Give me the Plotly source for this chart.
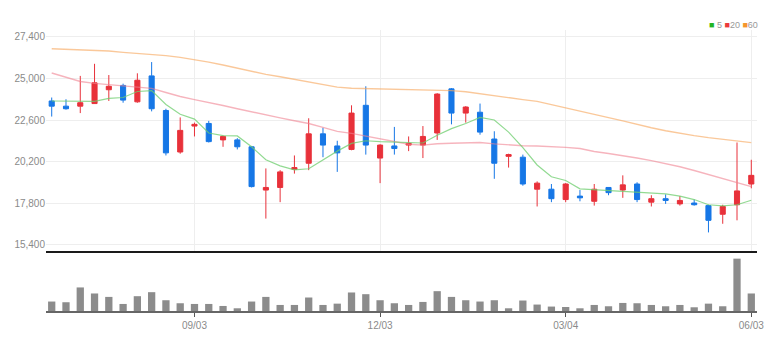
import pandas as pd
import plotly.graph_objects as go
from plotly.subplots import make_subplots

dates = ["2018-06-25", "2018-07-02", "2018-07-09", "2018-07-16", "2018-07-23", "2018-07-30",
         "2018-08-06", "2018-08-13", "2018-08-20", "2018-08-27", "2018-09-03", "2018-09-10",
         "2018-09-17", "2018-09-24", "2018-10-01", "2018-10-08", "2018-10-15", "2018-10-22",
         "2018-10-29", "2018-11-05", "2018-11-12", "2018-11-19", "2018-11-26", "2018-12-03",
         "2018-12-10", "2018-12-17", "2018-12-24", "2018-12-31", "2019-01-07", "2019-01-14",
         "2019-01-21", "2019-01-28", "2019-02-04", "2019-02-11", "2019-02-18", "2019-02-25",
         "2019-03-04", "2019-03-11", "2019-03-18", "2019-03-25", "2019-04-01", "2019-04-08",
         "2019-04-15", "2019-04-22", "2019-04-29", "2019-05-06", "2019-05-13", "2019-05-20",
         "2019-05-27", "2019-06-03"]

opens = [23700, 23400, 23400, 23550, 24350, 24600, 23650, 25150, 23150, 20750,
         22250, 22400, 21450, 21450, 21050, 18550, 18700, 19750, 20100, 21800,
         21100, 20900, 23450, 20400, 21100, 21150, 21150, 21850, 24400, 23000,
         23050, 21500, 20500, 20450, 18600, 18600, 18000, 18200, 17900, 18700,
         18550, 18900, 17850, 18050, 17750, 17800, 17650, 17150, 17700, 18900]
highs = [23900, 23800, 25150, 25850, 25200, 24700, 25300, 25950, 23250, 22750,
         22450, 22550, 21700, 21550, 21100, 19800, 19700, 20550, 22700, 22150,
         21400, 23450, 24550, 21200, 22200, 21650, 22250, 24150, 24450, 23400,
         23550, 21950, 20650, 20600, 19050, 18900, 18950, 18550, 18900, 18700,
         19400, 19000, 18250, 18300, 18200, 18000, 17700, 17700, 21300, 20300]
lows = [22800, 23200, 23000, 23550, 23700, 23600, 23600, 23100, 20550, 20650,
        21650, 21300, 21050, 20900, 18700, 16900, 17850, 19500, 19700, 20450,
        19600, 20850, 20600, 18950, 20600, 20800, 20400, 21450, 22350, 22450,
        21750, 19200, 19850, 18800, 17600, 17850, 17850, 17900, 17650, 18250,
        18100, 17850, 17600, 17750, 17650, 17650, 16100, 16600, 16800, 18650]
closes = [23400, 23250, 23600, 24750, 24550, 23750, 24900, 23250, 20700, 22000,
          22350, 21350, 21650, 21050, 18750, 18700, 19600, 19850, 21800, 21150,
          20700, 23000, 21150, 21150, 20950, 21250, 21650, 24100, 23000, 23350,
          21900, 20100, 20600, 18900, 18950, 18050, 18900, 18100, 18600, 18400,
          18850, 18000, 18050, 17950, 17950, 17700, 16800, 17600, 18500, 19400]

ma5 = [23700, 23680, 23670, 23680, 23850, 23900, 24250, 24300, 23500, 22930,
       22650, 21850, 21700, 21680, 21050, 20300, 19950, 19720, 19780, 20300,
       20800, 21250, 21400, 21350, 21320, 21300, 21270, 21720, 22100, 22400,
       22750, 22600, 21900, 21000, 20000, 19320, 19100, 18620, 18570, 18520,
       18510, 18450, 18380, 18330, 18200, 18000, 17700, 17640, 17700, 17960]
ma20 = [25320, 25080, 24830, 24720, 24640, 24570, 24500, 24430, 24190, 23960,
        23780, 23620, 23440, 23250, 23060, 22900, 22720, 22560, 22400, 22170,
        21940, 21830, 21680, 21540, 21360, 21200, 21150, 21230, 21260, 21300,
        21300, 21220, 21150, 21110, 21100, 21080, 21020, 20950, 20780, 20660,
        20550, 20400, 20250, 20080, 19900, 19680, 19450, 19200, 18950, 18750]
ma60 = [26720, 26690, 26660, 26620, 26590, 26510, 26460, 26390, 26320, 26220,
        26100, 25950, 25780, 25600, 25400, 25240, 25100, 24960, 24800, 24650,
        24500, 24440, 24420, 24400, 24380, 24360, 24340, 24320, 24300, 24230,
        24110, 24000, 23900, 23780, 23680, 23500, 23320, 23130, 22930, 22740,
        22550, 22330, 22150, 21980, 21830, 21700, 21580, 21470, 21370, 21290]

volumes = [188000, 174000, 468000, 348000, 280000, 140000, 294000, 374000, 214000, 154000,
           140000, 140000, 100000, 54000, 188000, 280000, 120000, 120000, 268000, 120000,
           146000, 368000, 334000, 214000, 154000, 120000, 180000, 394000, 280000, 214000,
           188000, 214000, 54000, 208000, 128000, 88000, 80000, 54000, 120000, 94000,
           160000, 154000, 120000, 94000, 120000, 74000, 146000, 94000, 1040000, 348000]

tick_dates = ["2018-09-03", "2018-12-03", "2019-03-04", "2019-06-03"]
tick_labels = ["09/03", "12/03", "03/04", "06/03"]
price_ticks = [15400, 17800, 20200, 22600, 25000, 27400]

UP = "#e8313a"
DOWN = "#1677e6"
FONT = "Liberation Sans Narrow, Arial Narrow, sans-serif"
LABEL = "#8a8a8a"

fig = make_subplots(rows=2, cols=1, shared_xaxes=False, vertical_spacing=0.0,
                    row_heights=[0.785, 0.215])

fig.add_trace(go.Scatter(x=dates, y=ma60, mode="lines",
                         line=dict(color="rgba(247,170,100,0.65)", width=1.4),
                         showlegend=False, hoverinfo="skip"), row=1, col=1)
fig.add_trace(go.Scatter(x=dates, y=ma20, mode="lines",
                         line=dict(color="rgba(240,130,145,0.6)", width=1.4),
                         showlegend=False, hoverinfo="skip"), row=1, col=1)
fig.add_trace(go.Scatter(x=dates, y=ma5, mode="lines",
                         line=dict(color="rgba(110,205,110,0.75)", width=1.2),
                         showlegend=False, hoverinfo="skip"), row=1, col=1)
fig.add_trace(go.Candlestick(x=dates, open=opens, high=highs, low=lows, close=closes,
                             increasing=dict(line=dict(color=UP, width=1), fillcolor=UP),
                             decreasing=dict(line=dict(color=DOWN, width=1), fillcolor=DOWN),
                             whiskerwidth=0, showlegend=False), row=1, col=1)
fig.add_trace(go.Bar(x=dates, y=volumes, marker=dict(color="#8c8c8c", line=dict(width=0)),
                     showlegend=False), row=2, col=1)

start = pd.Timestamp(dates[0]) - pd.Timedelta(days=2.8)
end = pd.Timestamp(dates[-1]) + pd.Timedelta(days=2.8)

fig.update_layout(
    width=781, height=349,
    margin=dict(l=46, r=24, t=30, b=38),
    paper_bgcolor="white", plot_bgcolor="white",
    boxgap=0.49, bargap=0.49,
    font=dict(family=FONT, size=10, color=LABEL),
    showlegend=False,
)

fig.update_xaxes(type="date", range=[start, end], tickvals=tick_dates, ticktext=tick_labels)
fig.update_xaxes(row=1, col=1, showticklabels=False, showgrid=True, gridcolor="#eeeeee",
                 gridwidth=1, showline=True, linecolor="#1a1a1a", linewidth=2,
                 rangeslider=dict(visible=False), ticks="", zeroline=False)
fig.update_xaxes(row=2, col=1, showticklabels=True, showgrid=False, showline=True,
                 linecolor="#666", linewidth=2, ticks="outside", ticklen=4, tickcolor="#555",
                 tickfont=dict(family=FONT, size=10, color=LABEL), zeroline=False)
fig.update_yaxes(row=1, col=1, range=[15050, 27804], tickvals=price_ticks, tickformat=",d",
                 showgrid=True, gridcolor="#eeeeee", gridwidth=1, zeroline=False,
                 tickfont=dict(family=FONT, size=10, color=LABEL), ticks="")
fig.update_yaxes(row=2, col=1, range=[0, max(volumes) * 60 / 52], showticklabels=False,
                 showgrid=False, zeroline=False, showline=False)

legend_text = ('<span style="color:#22b522">■</span> 5 '
               '<span style="color:#ec3a3a">■</span>20 '
               '<span style="color:#f5962e">■</span>60')
fig.add_annotation(xref="paper", yref="paper", x=1.004, y=1.018, xanchor="right",
                   yanchor="middle", text=legend_text, showarrow=False,
                   font=dict(family=FONT, size=9, color="#999"))

fig.write_html("out.html")
